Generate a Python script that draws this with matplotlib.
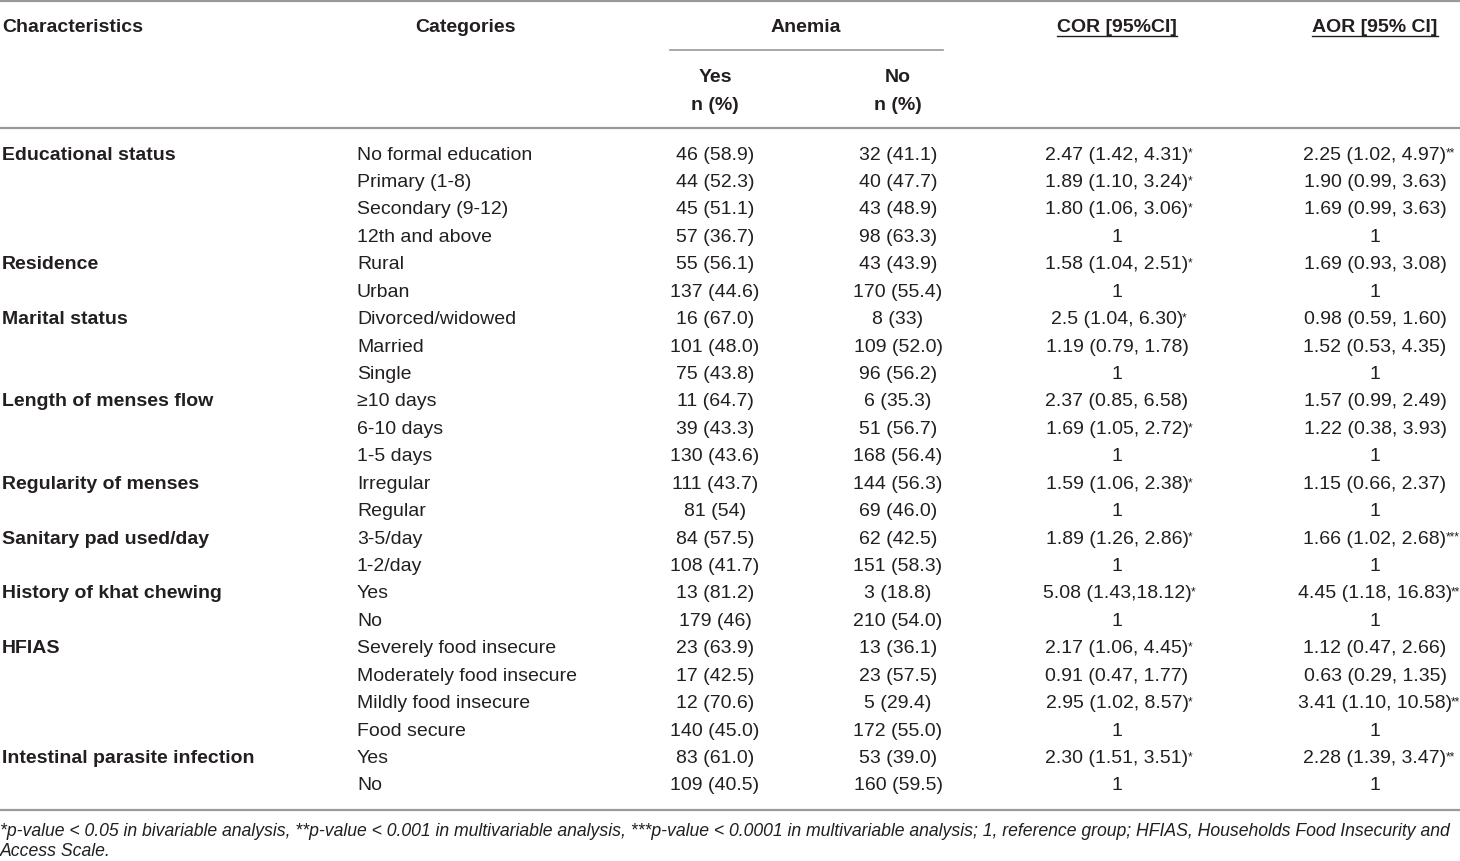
import matplotlib
matplotlib.use("Agg")
import matplotlib.pyplot as plt
from matplotlib import font_manager

# table content
characteristics = ["Educational status", "Residence", "Marital status",
                   "Length of menses flow", "Regularity of menses",
                   "Sanitary pad used/day", "History of khat chewing",
                   "HFIAS", "Intestinal parasite infection"]
group_sizes = [4, 2, 3, 3, 2, 2, 2, 4, 2]

categories = ["No formal education", "Primary (1-8)", "Secondary (9-12)", "12th and above",
              "Rural", "Urban",
              "Divorced/widowed", "Married", "Single",
              "\u226510 days", "6-10 days", "1-5 days",
              "Irregular", "Regular",
              "3-5/day", "1-2/day",
              "Yes", "No",
              "Severely food insecure", "Moderately food insecure",
              "Mildly food insecure", "Food secure",
              "Yes", "No"]

anemia_yes = ["46 (58.9)", "44 (52.3)", "45 (51.1)", "57 (36.7)",
              "55 (56.1)", "137 (44.6)",
              "16 (67.0)", "101 (48.0)", "75 (43.8)",
              "11 (64.7)", "39 (43.3)", "130 (43.6)",
              "111 (43.7)", "81 (54)",
              "84 (57.5)", "108 (41.7)",
              "13 (81.2)", "179 (46)",
              "23 (63.9)", "17 (42.5)", "12 (70.6)", "140 (45.0)",
              "83 (61.0)", "109 (40.5)"]

anemia_no = ["32 (41.1)", "40 (47.7)", "43 (48.9)", "98 (63.3)",
             "43 (43.9)", "170 (55.4)",
             "8 (33)", "109 (52.0)", "96 (56.2)",
             "6 (35.3)", "51 (56.7)", "168 (56.4)",
             "144 (56.3)", "69 (46.0)",
             "62 (42.5)", "151 (58.3)",
             "3 (18.8)", "210 (54.0)",
             "13 (36.1)", "23 (57.5)", "5 (29.4)", "172 (55.0)",
             "53 (39.0)", "160 (59.5)"]

cor = ["2.47 (1.42, 4.31)", "1.89 (1.10, 3.24)", "1.80 (1.06, 3.06)", "1",
       "1.58 (1.04, 2.51)", "1",
       "2.5 (1.04, 6.30)", "1.19 (0.79, 1.78)", "1",
       "2.37 (0.85, 6.58)", "1.69 (1.05, 2.72)", "1",
       "1.59 (1.06, 2.38)", "1",
       "1.89 (1.26, 2.86)", "1",
       "5.08 (1.43,18.12)", "1",
       "2.17 (1.06, 4.45)", "0.91 (0.47, 1.77)", "2.95 (1.02, 8.57)", "1",
       "2.30 (1.51, 3.51)", "1"]
cor_sig = ["*", "*", "*", "", "*", "", "*", "", "", "", "*", "",
           "*", "", "*", "", "*", "", "*", "", "*", "", "*", ""]

aor = ["2.25 (1.02, 4.97)", "1.90 (0.99, 3.63)", "1.69 (0.99, 3.63)", "1",
       "1.69 (0.93, 3.08)", "1",
       "0.98 (0.59, 1.60)", "1.52 (0.53, 4.35)", "1",
       "1.57 (0.99, 2.49)", "1.22 (0.38, 3.93)", "1",
       "1.15 (0.66, 2.37)", "1",
       "1.66 (1.02, 2.68)", "1",
       "4.45 (1.18, 16.83)", "1",
       "1.12 (0.47, 2.66)", "0.63 (0.29, 1.35)", "3.41 (1.10, 10.58)", "1",
       "2.28 (1.39, 3.47)", "1"]
aor_sig = ["**", "", "", "", "", "", "", "", "", "", "", "",
           "", "", "***", "", "**", "", "", "", "**", "", "**", ""]

footnote = ["*p-value < 0.05 in bivariable analysis, **p-value < 0.001 in multivariable analysis, "
            "***p-value < 0.0001 in multivariable analysis; 1, reference group; HFIAS, Households "
            "Food Insecurity and",
            "Access Scale."]

names = {f.name for f in font_manager.fontManager.ttflist}
family = "Liberation Sans" if "Liberation Sans" in names else "DejaVu Sans"
plt.rcParams["font.family"] = [family, "DejaVu Sans"]

W, H = 1460, 861
fig = plt.figure(figsize=(W / 100, H / 100), dpi=100)
ax = fig.add_axes([0, 0, 1, 1])
ax.set_xlim(0, W)
ax.set_ylim(H, 0)
ax.axis("off")

txt = "#231f20"
line = "#9a9a9a"
fs = 14
dyc = 2  # small shift so glyph centres sit like the reference

# column positions
x_char, x_cat = 2, 357
x_yes, x_no, x_cor, x_aor = 715, 898, 1117, 1375

# rules
ax.plot([0, W], [1, 1], color=line, lw=1.6)
ax.plot([0, W], [128, 128], color=line, lw=1.6)
ax.plot([0, W], [810, 810], color=line, lw=1.6)
ax.plot([670, 943], [50, 50], color=line, lw=1.2)

# header
ax.text(x_char, 25 + dyc, "Characteristics", fontsize=fs, weight="bold", color=txt, va="center")
ax.text(466, 25 + dyc, "Categories", fontsize=fs, weight="bold", color=txt, va="center", ha="center")
ax.text(806, 25 + dyc, "Anemia", fontsize=fs, weight="bold", color=txt, va="center", ha="center")
for xc, lab in [(x_cor, "COR [95%CI]"), (x_aor, "AOR [95% CI]")]:
    t = ax.text(xc, 25 + dyc, lab, fontsize=fs, weight="bold", color=txt, va="center", ha="center")
    fig.canvas.draw()
    bb = t.get_window_extent().transformed(ax.transData.inverted())
    ax.plot([bb.x0, bb.x1], [36, 36], color=txt, lw=1.0)
for xc, lab in [(x_yes, "Yes"), (x_no, "No")]:
    ax.text(xc, 75 + dyc, lab, fontsize=fs, weight="bold", color=txt, va="center", ha="center")
    ax.text(xc, 103 + dyc, "n (%)", fontsize=fs, weight="bold", color=txt, va="center", ha="center")

# body
y0, dy = 153 + dyc, 27.43
row = 0
for name, n in zip(characteristics, group_sizes):
    ax.text(x_char, y0 + row * dy, name, fontsize=fs, weight="bold", color=txt, va="center")
    row += n

for i in range(len(categories)):
    y = y0 + i * dy
    ax.text(x_cat, y, categories[i], fontsize=fs, color=txt, va="center")
    ax.text(x_yes, y, anemia_yes[i], fontsize=fs, color=txt, va="center", ha="center")
    ax.text(x_no, y, anemia_no[i], fontsize=fs, color=txt, va="center", ha="center")
    for xc, val, sig in [(x_cor, cor[i], cor_sig[i]), (x_aor, aor[i], aor_sig[i])]:
        t = ax.text(xc, y, val, fontsize=fs, color=txt, va="center", ha="center")
        if sig:
            ax.annotate(sig, xy=(1, 1), xycoords=t, xytext=(-0.8, -1), textcoords="offset points",
                        fontsize=8.5, color=txt, ha="left", va="top")

for k, line_txt in enumerate(footnote):
    ax.text(0, 831 + k * 21, line_txt, fontsize=12.7, style="italic", color=txt, va="center")

fig.savefig("out.png", dpi=100)
